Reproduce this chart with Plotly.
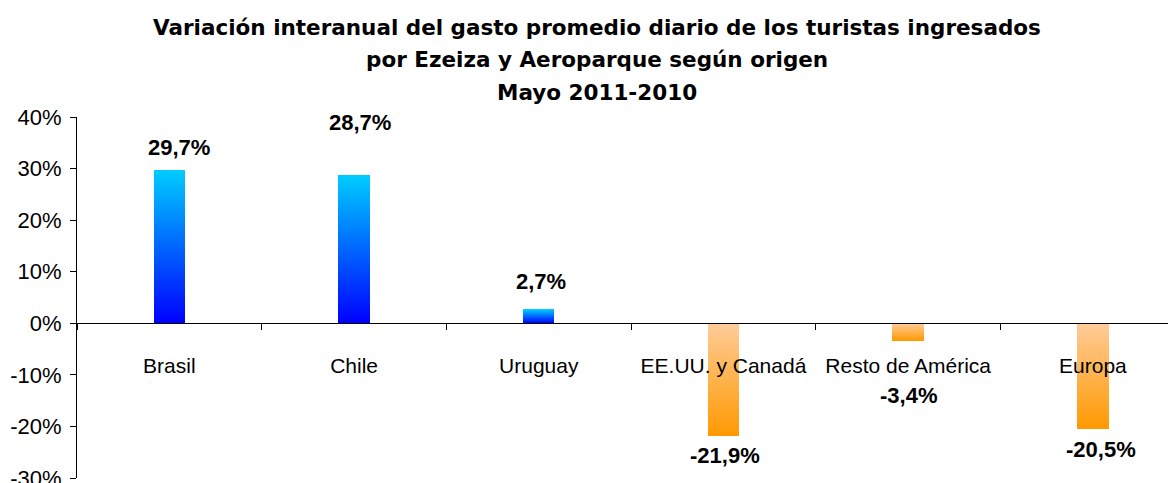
import plotly.graph_objects as go

categories = ["Brasil", "Chile", "Uruguay", "EE.UU. y Canadá", "Resto de América", "Europa"]
values = [29.7, 28.7, 2.7, -21.9, -3.4, -20.5]
y_ticks = [-30, -20, -10, 0, 10, 20, 30, 40]
title_lines = [
    "Variación interanual del gasto promedio diario de los turistas ingresados",
    "por Ezeiza y Aeroparque según origen",
    "Mayo 2011-2010",
]

# styling (label offsets in data units / pixels)
label_dy = [4.3, 10.3, 5.5, -3.7, -10.6, -4.0]
label_dx = [10, 6, 2, 2, 0, 8]

POS_BOTTOM, POS_TOP = (0, 0, 255), (0, 204, 255)
NEG_NEAR, NEG_FAR = (255, 204, 153), (255, 153, 0)
FONT = "Liberation Sans, Arial, sans-serif"
TITLE_FONT = "DejaVu Sans, sans-serif"

# page body has an 8px margin: figure sits at (8, 8) in the window
W, H = 1168, 475
ML, MT, MR, MB = 69, 109, 0, 5


def mix(c1, c2, t):
    return "rgb(%d,%d,%d)" % tuple(round(a + (b - a) * t) for a, b in zip(c1, c2))


fig = go.Figure()
N = 60
for k in range(N):
    frac_top = (N - k) / N
    frac_mid = (N - k - 0.5) / N
    ys = [v * frac_top for v in values]
    cols = [mix(POS_BOTTOM, POS_TOP, frac_mid) if v > 0 else mix(NEG_NEAR, NEG_FAR, frac_mid)
            for v in values]
    fig.add_trace(go.Bar(x=categories, y=ys, marker=dict(color=cols, line=dict(width=0)),
                         width=0.17, showlegend=False, hoverinfo="skip"))

annotations = []
for c, v, dy, dx in zip(categories, values, label_dy, label_dx):
    annotations.append(dict(x=c, y=v + dy, xref="x", yref="y", text=f"{v:.1f}".replace(".", ",") + "%",
                            showarrow=False, xshift=dx,
                            font=dict(family=FONT, size=22, color="black", weight="bold")))

title_y_px = [20, 52, 85]  # in figure pixels
plot_w, plot_h = W - ML - MR, H - MT - MB
for line, ypx in zip(title_lines, title_y_px):
    annotations.append(dict(x=(589 - ML) / plot_w, y=1 + (MT - ypx) / plot_h, xref="paper", yref="paper",
                            text=line, showarrow=False, yanchor="middle", xanchor="center",
                            font=dict(family=TITLE_FONT, size=21.5, color="black", weight="bold")))

fig.update_layout(
    width=W, height=H,
    margin=dict(l=ML, r=MR, t=MT, b=MB),
    paper_bgcolor="white", plot_bgcolor="white",
    barmode="overlay", bargap=0,
    annotations=annotations,
    font=dict(family=FONT, color="black"),
    xaxis=dict(type="category", range=[-0.5, 5.45], anchor="free", position=30 / 70,
               showline=True, linecolor="black", linewidth=1, automargin=False,
               ticks="outside", ticklen=6, tickcolor="black", tickson="boundaries",
               ticklabelstandoff=24, tickfont=dict(family=FONT, size=21, color="black"),
               showgrid=False, zeroline=False),
    yaxis=dict(range=[-30, 40], tickvals=y_ticks, ticktext=[f"{t}%" for t in y_ticks],
               showline=True, linecolor="black", linewidth=1, automargin=False,
               ticks="outside", ticklen=6, tickcolor="black", ticklabelstandoff=4,
               ticklabeloverflow="allow",
               tickfont=dict(family=FONT, size=22, color="black"),
               showgrid=False, zeroline=False),
)

fig.write_html("out.html")
